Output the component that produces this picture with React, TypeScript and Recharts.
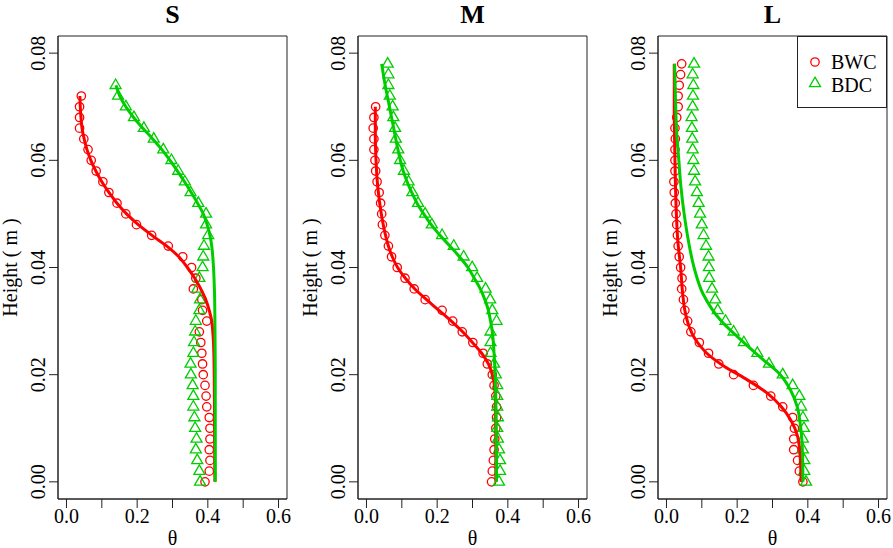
import { ComposedChart, Legend, ReferenceArea, Scatter, XAxis, YAxis } from "recharts"

const RED = "#FF0000"
const GREEN = "#00CD00"
const FRAME = "#222"
const FONT = '"Liberation Serif", "Times New Roman", serif'

// sampling heights of the probes (m), bottom to top
const heights = [
  0, 0.002, 0.004, 0.006, 0.008, 0.01, 0.012, 0.014, 0.016, 0.018,
  0.02, 0.022, 0.024, 0.026, 0.028, 0.03, 0.032, 0.034, 0.036, 0.038,
  0.04, 0.042, 0.044, 0.046, 0.048, 0.05, 0.052, 0.054, 0.056, 0.058,
  0.06, 0.062, 0.064, 0.066, 0.068, 0.07, 0.072, 0.074, 0.076, 0.078,
]

const thetaTicks = [0, 0.1, 0.2, 0.3, 0.4, 0.5, 0.6]
const heightTicks = [0, 0.02, 0.04, 0.06, 0.08]
const thetaRange = [-0.024, 0.624]
const heightRange = [-0.0032, 0.0832]

// --- S ---
const sBwc = [
  0.392, 0.404, 0.406, 0.404, 0.406, 0.406, 0.404, 0.397, 0.395, 0.392,
  0.387, 0.385, 0.383, 0.38, 0.376, 0.397, 0.385, 0.383, 0.359, 0.366,
  0.354, 0.329, 0.288, 0.241, 0.198, 0.168, 0.143, 0.12, 0.103, 0.084,
  0.07, 0.061, 0.049, 0.037, 0.037, 0.037, 0.042,
]
const sBdc = [
  0.378, 0.376, 0.37, 0.366, 0.368, 0.364, 0.362, 0.359, 0.359, 0.357,
  0.352, 0.351, 0.359, 0.361, 0.364, 0.366, 0.376, 0.378, 0.37, 0.376,
  0.385, 0.387, 0.389, 0.401, 0.395, 0.395, 0.373, 0.351, 0.335, 0.316,
  0.297, 0.274, 0.247, 0.219, 0.191, 0.168, 0.146, 0.139,
]
const sBwcFitH = [
  0, 0.01, 0.02, 0.024, 0.026, 0.028, 0.03, 0.032, 0.034, 0.036, 0.038,
  0.04, 0.042, 0.044, 0.046, 0.048, 0.05, 0.052, 0.054, 0.056, 0.058, 0.06,
  0.062, 0.064, 0.066, 0.068, 0.07, 0.072,
]
const sBwcFit = [
  0.42, 0.419, 0.418, 0.417, 0.416, 0.414, 0.411, 0.404, 0.394, 0.38, 0.363,
  0.342, 0.318, 0.284, 0.242, 0.203, 0.17, 0.143, 0.12, 0.1, 0.083, 0.069,
  0.058, 0.05, 0.044, 0.041, 0.039, 0.038,
]
const sBdcFitH = [
  0, 0.01, 0.02, 0.03, 0.035, 0.04, 0.042, 0.044, 0.046, 0.048, 0.05, 0.052,
  0.054, 0.056, 0.058, 0.06, 0.062, 0.064, 0.066, 0.068, 0.07, 0.072, 0.074,
]
const sBdcFit = [
  0.421, 0.421, 0.421, 0.42, 0.419, 0.416, 0.414, 0.411, 0.406, 0.398, 0.387,
  0.371, 0.353, 0.334, 0.314, 0.293, 0.27, 0.244, 0.216, 0.19, 0.168, 0.151,
  0.14,
]

// --- M ---
const mBwc = [
  0.354, 0.356, 0.359, 0.361, 0.363, 0.366, 0.368, 0.368, 0.366, 0.361,
  0.356, 0.342, 0.33, 0.301, 0.271, 0.244, 0.214, 0.166, 0.135, 0.109,
  0.087, 0.071, 0.062, 0.052, 0.045, 0.043, 0.04, 0.036, 0.03, 0.026,
  0.024, 0.021, 0.021, 0.019, 0.021, 0.026,
]
const mBdc = [
  0.375, 0.378, 0.378, 0.375, 0.372, 0.37, 0.372, 0.37, 0.37, 0.37,
  0.366, 0.361, 0.351, 0.351, 0.351, 0.368, 0.356, 0.35, 0.337, 0.313,
  0.299, 0.275, 0.247, 0.214, 0.185, 0.166, 0.146, 0.13, 0.119, 0.106,
  0.095, 0.09, 0.083, 0.081, 0.076, 0.074, 0.066, 0.062, 0.062, 0.06,
]
const mBwcFitH = [
  0, 0.01, 0.015, 0.018, 0.02, 0.022, 0.024, 0.026, 0.028, 0.03, 0.032,
  0.034, 0.036, 0.038, 0.04, 0.042, 0.044, 0.046, 0.05, 0.055, 0.06, 0.065,
  0.07,
]
const mBwcFit = [
  0.366, 0.366, 0.365, 0.362, 0.356, 0.345, 0.326, 0.3, 0.272, 0.24, 0.205,
  0.17, 0.137, 0.11, 0.088, 0.073, 0.062, 0.054, 0.042, 0.032, 0.027, 0.025,
  0.025,
]
const mBdcFitH = [
  0, 0.01, 0.02, 0.024, 0.028, 0.03, 0.032, 0.034, 0.036, 0.038, 0.04, 0.042,
  0.044, 0.046, 0.048, 0.05, 0.052, 0.054, 0.056, 0.058, 0.062, 0.066, 0.07,
  0.074, 0.078,
]
const mBdcFit = [
  0.368, 0.367, 0.364, 0.361, 0.356, 0.351, 0.345, 0.335, 0.322, 0.305,
  0.287, 0.263, 0.236, 0.208, 0.183, 0.162, 0.143, 0.128, 0.115, 0.104,
  0.089, 0.077, 0.065, 0.053, 0.043,
]

// --- L ---
const lBwc = [
  0.386, 0.376, 0.371, 0.36, 0.36, 0.362, 0.357, 0.329, 0.295, 0.246,
  0.19, 0.148, 0.119, 0.093, 0.069, 0.06, 0.052, 0.048, 0.043, 0.044,
  0.04, 0.036, 0.033, 0.031, 0.029, 0.027, 0.025, 0.022, 0.021, 0.024,
  0.024, 0.024, 0.025, 0.024, 0.029, 0.033, 0.033, 0.036, 0.04, 0.043,
]
const lBdc = [
  0.395, 0.39, 0.39, 0.386, 0.386, 0.389, 0.386, 0.381, 0.376, 0.357,
  0.329, 0.29, 0.257, 0.219, 0.19, 0.167, 0.145, 0.138, 0.129, 0.121,
  0.12, 0.119, 0.112, 0.105, 0.1, 0.095, 0.091, 0.086, 0.081, 0.078,
  0.076, 0.074, 0.073, 0.072, 0.071, 0.074, 0.075, 0.076, 0.074, 0.078,
]
const lBwcFitH = [
  0, 0.005, 0.0085, 0.0115, 0.014, 0.0165, 0.0195, 0.0215, 0.024, 0.025,
  0.027, 0.029, 0.032, 0.035, 0.04, 0.045, 0.05, 0.06, 0.07, 0.078,
]
const lBwcFit = [
  0.381, 0.378, 0.371, 0.352, 0.325, 0.286, 0.217, 0.165, 0.114, 0.1, 0.078,
  0.064, 0.052, 0.046, 0.04, 0.032, 0.028, 0.024, 0.022, 0.022,
]
const lBdcFitH = [
  0, 0.005, 0.01, 0.014, 0.017, 0.02, 0.023, 0.026, 0.03, 0.035, 0.04,
  0.045, 0.05, 0.055, 0.06, 0.065, 0.07, 0.078,
]
const lBdcFit = [
  0.386, 0.385, 0.38, 0.37, 0.352, 0.322, 0.27, 0.219, 0.155, 0.104, 0.078,
  0.062, 0.05, 0.041, 0.035, 0.029, 0.026, 0.023,
]

type Pt = { t: number; h: number }
const toPoints = (hs: number[], ts: number[]): Pt[] =>
  ts.map((t, i) => ({ t, h: hs[i] }))

const CircleMark = (p: any) => (
  <circle cx={p.cx} cy={p.cy} r={4.2} fill="none" stroke={RED} strokeWidth={1.3} />
)
const TriangleMark = (p: any) => (
  <path
    d={`M${p.cx},${p.cy - 6.3}L${p.cx + 5.5},${p.cy + 3.2}L${p.cx - 5.5},${p.cy + 3.2}Z`}
    fill="none"
    stroke={GREEN}
    strokeWidth={1.3}
  />
)
const NoMark = () => <g />

const HeightTick = (p: any) => (
  <text
    x={p.x}
    y={p.y}
    transform={`rotate(-90 ${p.x} ${p.y})`}
    textAnchor="middle"
    fill="#000"
    fontSize={20}
    fontFamily={FONT}
  >
    {Number(p.payload.value).toFixed(2)}
  </text>
)

const TitleLabel = ({ viewBox, text }: any) => (
  <text
    x={viewBox.x + viewBox.width / 2}
    y={viewBox.y - 13}
    textAnchor="middle"
    fontSize={26}
    fontWeight="bold"
    fontFamily={FONT}
    fill="#000"
  >
    {text}
  </text>
)

const ThetaLabel = ({ viewBox }: any) => (
  <text
    x={viewBox.x + viewBox.width / 2}
    y={viewBox.y + 46}
    textAnchor="middle"
    fontSize={20}
    fontFamily={FONT}
    fill="#000"
  >
    θ
  </text>
)

const HeightLabel = ({ viewBox }: any) => {
  const x = viewBox.x + 17
  const y = viewBox.y + viewBox.height / 2
  return (
    <text
      x={x}
      y={y}
      transform={`rotate(-90 ${x} ${y})`}
      textAnchor="middle"
      fontSize={20}
      fontFamily={FONT}
      fill="#000"
    >
      Height ( m )
    </text>
  )
}

const LegendBox = () => (
  <svg width={90} height={72} style={{ display: "block" }}>
    <rect x={0.5} y={0.5} width={89} height={71} fill="#fff" stroke={FRAME} />
    <circle cx={18} cy={26} r={4.2} fill="none" stroke={RED} strokeWidth={1.3} />
    <path d="M18,41.2L23.5,50.7L12.5,50.7Z" fill="none" stroke={GREEN} strokeWidth={1.3} />
    <text x={34} y={32.5} fontSize={20} fontFamily={FONT} fill="#000">BWC</text>
    <text x={34} y={56} fontSize={20} fontFamily={FONT} fill="#000">BDC</text>
  </svg>
)

type PanelProps = {
  title: string
  bwc: number[]
  bdc: number[]
  bwcFit: Pt[]
  bdcFit: Pt[]
  legend?: boolean
}

function Panel({ title, bwc, bdc, bwcFit, bdcFit, legend }: PanelProps) {
  return (
    <ComposedChart
      width={300}
      height={548}
      margin={{ top: 36, right: 13, bottom: 0, left: 0 }}
    >
      <XAxis
        type="number"
        dataKey="t"
        domain={thetaRange}
        ticks={thetaTicks}
        interval={0}
        allowDataOverflow
        height={49}
        tickSize={9}
        tickMargin={1}
        stroke={FRAME}
        tick={{ fill: "#000", fontSize: 20, fontFamily: FONT }}
        tickFormatter={(v: number) => (Math.round(v * 10) % 2 === 0 ? v.toFixed(1) : "")}
        label={<ThetaLabel />}
      />
      <YAxis
        type="number"
        dataKey="h"
        domain={heightRange}
        ticks={heightTicks}
        interval={0}
        allowDataOverflow
        width={58}
        tickSize={9}
        tickMargin={4}
        stroke={FRAME}
        tick={<HeightTick />}
        label={<HeightLabel />}
      />
      {/* plot frame (box) with the panel title above it */}
      <ReferenceArea
        x1={thetaRange[0]}
        x2={thetaRange[1]}
        y1={heightRange[0]}
        y2={heightRange[1]}
        fill="none"
        fillOpacity={0}
        stroke={FRAME}
        strokeWidth={1}
        ifOverflow="visible"
        label={<TitleLabel text={title} />}
      />
      <Scatter
        name="BWC"
        data={toPoints(heights, bwc)}
        shape={CircleMark}
        isAnimationActive={false}
      />
      <Scatter
        name="BDC"
        data={toPoints(heights, bdc)}
        shape={TriangleMark}
        isAnimationActive={false}
      />
      <Scatter
        data={bwcFit}
        shape={NoMark}
        line={{ stroke: RED, strokeWidth: 3 }}
        lineType="joint"
        lineJointType="monotoneY"
        legendType="none"
        isAnimationActive={false}
      />
      <Scatter
        data={bdcFit}
        shape={NoMark}
        line={{ stroke: GREEN, strokeWidth: 3 }}
        lineType="joint"
        lineJointType="monotoneY"
        legendType="none"
        isAnimationActive={false}
      />
      {legend && (
        <Legend
          layout="horizontal"
          align="center"
          verticalAlign="middle"
          wrapperStyle={{ top: 36, left: 197, width: 90, height: 72 }}
          content={() => <LegendBox />}
        />
      )}
    </ComposedChart>
  )
}

export default function App() {
  return (
    <div
      style={{
        position: "absolute",
        left: 0,
        top: 0,
        width: 893,
        height: 548,
        background: "#fff",
        fontFamily: FONT,
      }}
    >
      <div style={{ position: "absolute", left: 0, top: 0 }}>
        <Panel
          title="S"
          bwc={sBwc}
          bdc={sBdc}
          bwcFit={toPoints(sBwcFitH, sBwcFit)}
          bdcFit={toPoints(sBdcFitH, sBdcFit)}
        />
      </div>
      <div style={{ position: "absolute", left: 300, top: 0 }}>
        <Panel
          title="M"
          bwc={mBwc}
          bdc={mBdc}
          bwcFit={toPoints(mBwcFitH, mBwcFit)}
          bdcFit={toPoints(mBdcFitH, mBdcFit)}
        />
      </div>
      <div style={{ position: "absolute", left: 600, top: 0 }}>
        <Panel
          title="L"
          bwc={lBwc}
          bdc={lBdc}
          bwcFit={toPoints(lBwcFitH, lBwcFit)}
          bdcFit={toPoints(lBdcFitH, lBdcFit)}
          legend
        />
      </div>
    </div>
  )
}
